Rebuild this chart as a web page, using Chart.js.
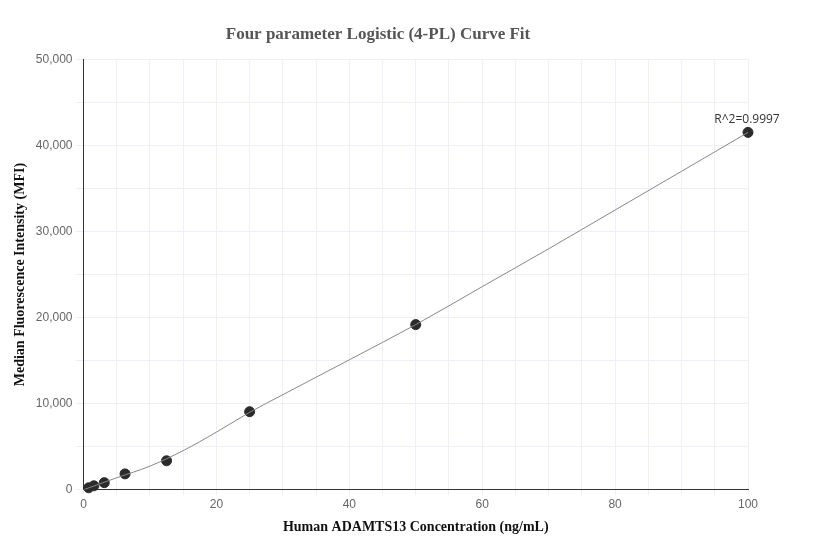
<!DOCTYPE html>
<html><head><meta charset="utf-8">
<script src="https://cdn.jsdelivr.net/npm/chart.js@4/dist/chart.umd.min.js"></script>
<style>body{margin:0;background:#fff}#w{width:832px;height:560px}</style>
</head><body><div id="w"><canvas id="c"></canvas></div>
<script>
const pointX = [0.78, 1.56, 3.125, 6.25, 12.5, 25, 50, 100];
const pointY = [230, 465, 830, 1850, 3370, 9070, 19190, 41520];
const curveX = [0, 2, 5, 10, 15, 20, 25, 30, 40, 50, 60, 70, 80, 90, 100];
const curveY = [0, 560, 1400, 2750, 4550, 6700, 9000, 11050, 15100, 19190, 23600, 28000, 32500, 37000, 41520];
const r2Label = 'R^2=0.9997';

const r2Plugin = {id:'r2', afterDatasetsDraw(ch){
  const c=ch.ctx, xs=ch.scales.x, ys=ch.scales.y;
  c.save(); c.font='12px "Open Sans", sans-serif'; c.fillStyle='#333'; c.textAlign='center';
  c.fillText(r2Label, xs.getPixelForValue(pointX[7])-1, ys.getPixelForValue(pointY[7])-9);
  c.restore();
}};
new Chart(document.getElementById('c'), {
  type:'scatter',
  data:{datasets:[
    {type:'line', data:curveX.map((x,i)=>({x, y:curveY[i]})), borderColor:'#888', borderWidth:1, pointRadius:0, cubicInterpolationMode:'monotone', fill:false},
    {data:pointX.map((x,i)=>({x, y:pointY[i]})), backgroundColor:'#2b2b2b', borderColor:'#2b2b2b', pointRadius:5, clip:false}
  ]},
  options:{responsive:true, maintainAspectRatio:false, animation:false,
    layout:{padding:{left:8,right:84,top:14,bottom:20}},
    plugins:{legend:{display:false}, tooltip:{enabled:false},
      title:{display:true, text:'Four parameter Logistic (4-PL) Curve Fit', color:'#555', font:{family:'"Liberation Serif", serif', size:17, weight:'bold'}, padding:{top:10,bottom:15}}},
    scales:{
      x:{type:'linear', min:0, max:100,
        ticks:{stepSize:5, color:'#666', font:{size:12}, autoSkip:false, maxRotation:0, callback:v=>v%20===0?v:''},
        grid:{color:'#eef0f5', tickLength:5}, border:{color:'#333'},
        title:{display:true, text:'Human ADAMTS13 Concentration (ng/mL)', color:'#111', font:{family:'"Liberation Serif", serif', size:14, weight:'bold'}}},
      y:{min:0, max:50000,
        ticks:{stepSize:5000, color:'#666', font:{size:12}, callback:v=>v%10000===0?v.toLocaleString('en-US'):''},
        grid:{color:'#eef0f5'}, border:{color:'#333'},
        title:{display:true, text:'Median Fluorescence Intensity (MFI)', color:'#111', font:{family:'"Liberation Serif", serif', size:14, weight:'bold'}}}
    }},
  plugins:[r2Plugin]
});
</script></body></html>
